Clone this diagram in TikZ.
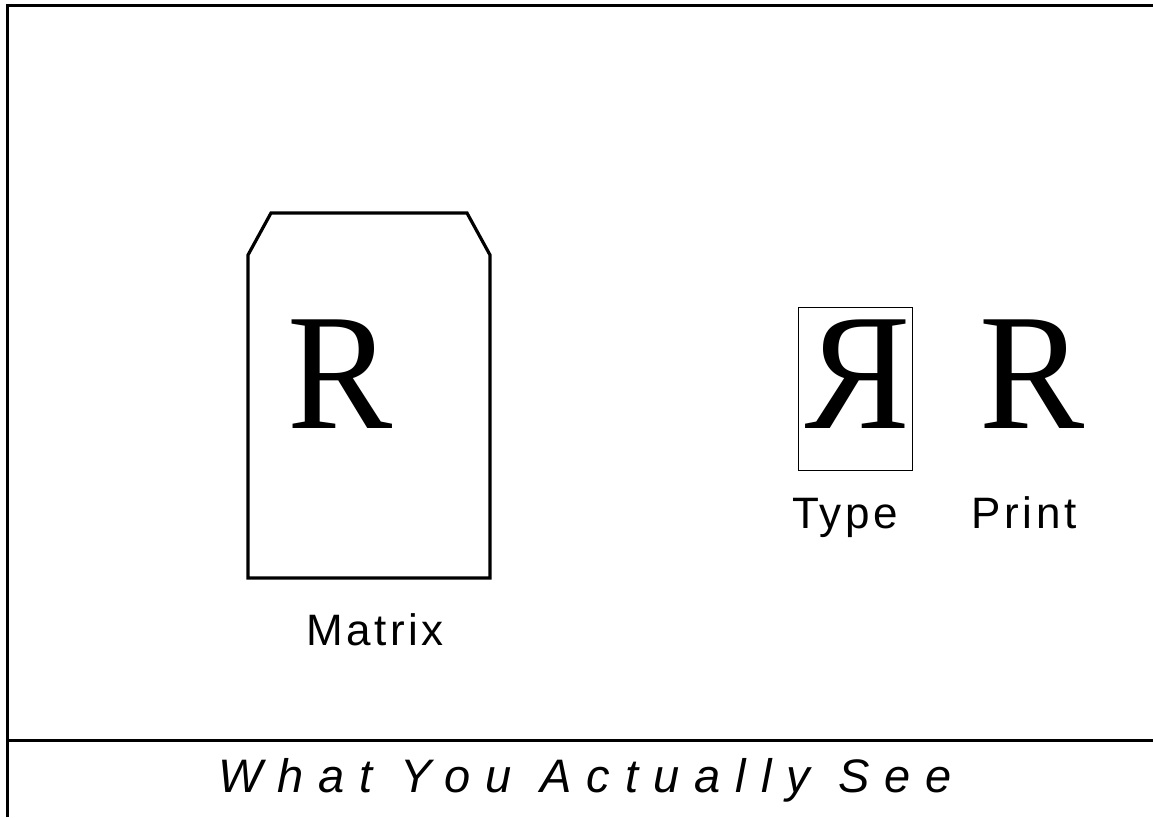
\documentclass[tikz,border=0pt]{standalone}
\usepackage{fontspec}
\newfontfamily\serfont{Liberation Serif}
\newfontfamily\labfont[LetterSpace=8]{Liberation Sans}
\newfontfamily\capfont[LetterSpace=32]{Liberation Sans Italic}
\begin{document}
\begin{tikzpicture}[x=1pt,y=-1pt,
  frame/.style={line width=3pt},
  matrixshape/.style={line width=3.2pt, line join=miter},
  bigletter/.style={font=\serfont\fontsize{166}{170}\selectfont, anchor=base, inner sep=0pt, xscale=0.95},
  lab/.style={font=\labfont\fontsize{44}{50}\selectfont, anchor=base, inner sep=0pt},
  typebox/.style={draw, line width=1pt, minimum width=114pt, minimum height=163pt, inner sep=0pt}]
\useasboundingbox (0,0) rectangle (1153,817);
% frame
\draw[frame] (7.5,817) -- (7.5,5.5) -- (1153,5.5);
\draw[frame] (7.5,740.5) -- (1153,740.5);
% matrix
\draw[matrixshape] (248,578) -- (248,255) -- (271,213) -- (467,213) -- (490,255) -- (490,578) -- cycle;
\node[bigletter] (mR) at (340,428) {R};
\node[lab] (mlab) at (375,645) {Matrix};
% type
\node[typebox] (tbox) at (855,388.5) {};
\node[bigletter, xscale=-1] (tR) at (858,428) {R};
\node[lab] (tlab) at (845,528) {Type};
% print
\node[bigletter] (pR) at (1032,428) {R};
\node[lab] (plab) at (1024,528) {Print};
% caption
\node[font=\capfont\fontsize{47}{52}\selectfont, anchor=base, inner sep=0pt] (cap) at (585,792) {What You Actually See};
\end{tikzpicture}
\end{document}
